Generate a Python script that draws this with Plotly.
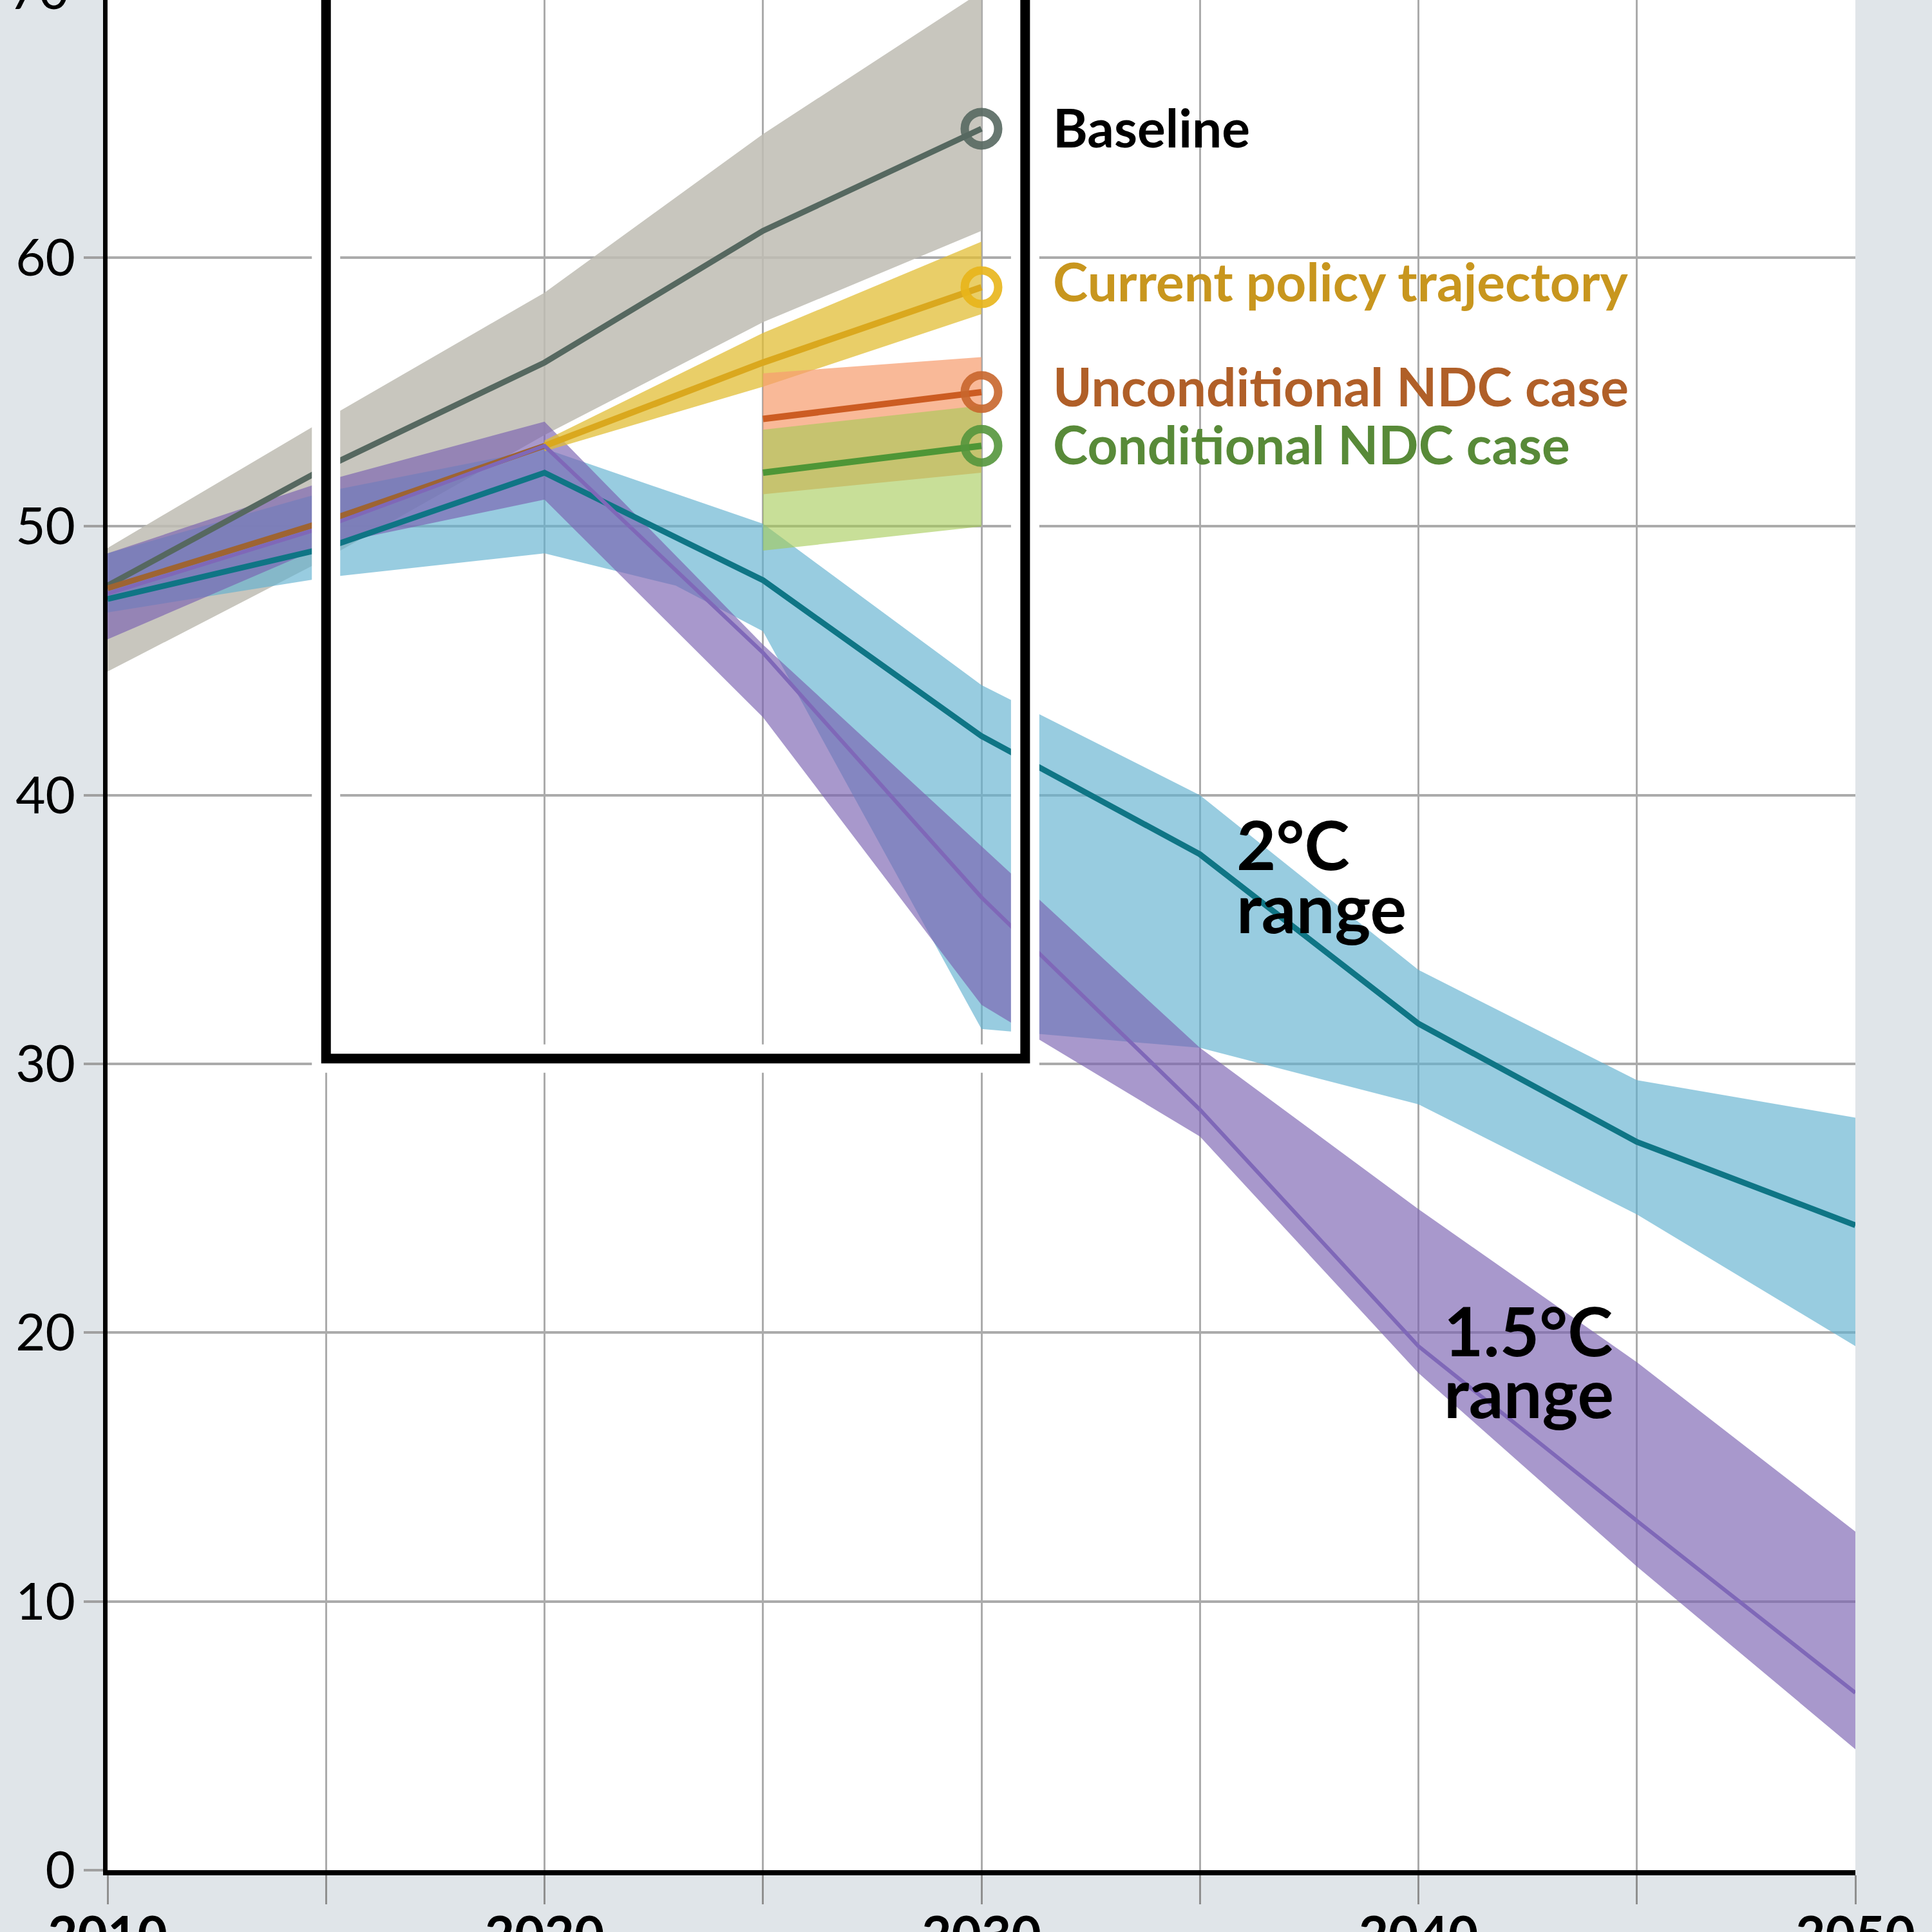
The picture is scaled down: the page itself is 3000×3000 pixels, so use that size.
import plotly.graph_objects as go

# ---------------- data ----------------
years5 = [2010, 2015, 2020, 2025, 2030]
baseline = [47.8, 52.2, 56.1, 61.0, 64.8]
baseline_hi = [49.2, 54.0, 58.7, 64.6, 69.9]
baseline_lo = [44.6, 48.8, 53.4, 57.6, 61.0]

hist_years = [2010, 2015, 2020]
historical = [47.7, 50.2, 53.0]

cp_years = [2020, 2025, 2030]
current_policy = [53.0, 56.1, 58.9]
cp_hi = [53.2, 57.2, 60.6]
cp_lo = [52.8, 55.2, 57.9]

ndc_years = [2025, 2030]
uncond = [54.0, 55.0]
uncond_hi = [55.7, 56.3]
uncond_lo = [51.2, 52.0]
cond = [52.0, 53.0]
cond_hi = [53.6, 54.5]
cond_lo = [49.1, 50.0]

years_long = [2010, 2015, 2020, 2025, 2030, 2035, 2040, 2045, 2050]
two_c = [47.3, 49.2, 52.0, 48.0, 42.2, 37.8, 31.5, 27.1, 24.0]
two_c_hi = [49.0, 51.3, 52.9, 50.1, 44.1, 40.0, 33.5, 29.4, 28.0]
two_c_lo_years = [2010, 2015, 2020, 2023, 2025, 2030, 2035, 2040, 2045, 2050]
two_c_lo = [46.8, 48.1, 49.0, 47.8, 46.1, 31.3, 30.6, 28.5, 24.4, 19.5]

one5_c = [47.5, 50.0, 53.0, 45.3, 36.2, 28.3, 19.5, 13.0, 6.6]
one5_hi = [49.0, 51.7, 53.9, 45.6, 38.1, 30.6, 24.6, 18.9, 12.6]
one5_lo = [45.8, 49.3, 51.0, 42.9, 32.2, 27.3, 18.5, 11.3, 4.5]

x_ticks = [2010, 2015, 2020, 2025, 2030, 2035, 2040, 2045, 2050]
x_ticktext = ["2010", "", "2020", "", "2030", "", "2040", "", "2050"]
y_ticks = [0, 10, 20, 30, 40, 50, 60]
y_top_label = 70

end_labels = ["Baseline", "Current policy trajectory", "Unconditional NDC case", "Conditional NDC case"]
end_values = [baseline[-1], current_policy[-1], uncond[-1], cond[-1]]

box_x = [2015, 2031.0]
box_bottom = 30.2

# ---------------- styling ----------------
W, H = 3000, 3000
ML, MR, MT, MB = 167, 119, 0, 96
Y_MAX = 69.59
FONT = "Lato"
label_anchor_y = [64.88, 59.14, 55.24, 53.08]

fig = go.Figure()


def band(xu, hi, xl, lo, color):
    fig.add_trace(go.Scatter(
        x=list(xu) + list(xl)[::-1], y=list(hi) + list(lo)[::-1],
        fill="toself", fillcolor=color, line=dict(width=0),
        mode="lines", hoverinfo="skip", showlegend=False))


def line(x, y, color, width):
    fig.add_trace(go.Scatter(x=x, y=y, mode="lines",
                             line=dict(color=color, width=width),
                             hoverinfo="skip", showlegend=False))


band(years5, baseline_hi, years5, baseline_lo, "rgba(190,188,179,0.85)")
band(years_long, two_c_hi, two_c_lo_years, two_c_lo, "rgba(97,177,207,0.65)")
band(years_long, one5_hi, years_long, one5_lo, "rgba(121,97,177,0.65)")
band(cp_years, cp_hi, cp_years, cp_lo, "rgba(226,190,54,0.75)")
band(ndc_years, uncond_hi, ndc_years, uncond_lo, "rgba(246,158,112,0.72)")
band(ndc_years, cond_hi, ndc_years, cond_lo, "rgba(163,202,83,0.6)")

line(years5, baseline, "#566860", 9)
line(hist_years, historical, "#9e6432", 9)
line(cp_years, current_policy, "#daa81e", 10)
line(years_long, two_c, "#0f7585", 9)
line(years_long, one5_c, "#7f68b8", 6)
line(ndc_years, uncond, "#cc5c22", 10)
line(ndc_years, cond, "#4e9636", 10)

marker_colors = ["rgba(86,104,96,0.9)", "rgba(232,181,26,0.9)",
                 "rgba(200,102,44,0.9)", "rgba(84,150,60,0.9)"]
for v, c in zip(end_values, marker_colors):
    fig.add_trace(go.Scatter(x=[2030], y=[v], mode="markers",
                             marker=dict(symbol="circle-open", size=52, color=c,
                                         line=dict(width=13, color=c)),
                             hoverinfo="skip", showlegend=False))

label_colors = ["#000000", "#c8961e", "#b05f28", "#588a38"]
annotations = []
for t, v, c in zip(end_labels, label_anchor_y, label_colors):
    annotations.append(dict(x=2031.6, y=v, xref="x", yref="y", text=t, showarrow=False,
                            xanchor="left", yanchor="middle",
                            font=dict(family=FONT, size=82, color=c, weight="bold")))

range_labels = [("2°C", 2035.8, 38.2), ("range", 2035.8, 35.85),
                ("1.5°C", 2040.55, 20.1), ("range", 2040.55, 17.8)]
for t, xx, yy in range_labels:
    annotations.append(dict(x=xx, y=yy, xref="x", yref="y", text=t, showarrow=False,
                            xanchor="left", yanchor="middle",
                            font=dict(family=FONT, size=106, color="black", weight="bold")))

plot_w = W - ML - MR
annotations.append(dict(x=-58 / plot_w, y=y_top_label / Y_MAX, xref="paper", yref="paper",
                        text=str(y_top_label), showarrow=False, xanchor="right", yanchor="middle",
                        font=dict(family=FONT, size=80, color="black")))

shapes = [
    dict(type="rect", xref="x", yref="y", x0=box_x[0], x1=box_x[1], y0=box_bottom, y1=90,
         line=dict(color="white", width=44), fillcolor="rgba(0,0,0,0)", layer="above"),
    dict(type="rect", xref="x", yref="y", x0=box_x[0], x1=box_x[1], y0=box_bottom, y1=90,
         line=dict(color="black", width=15), fillcolor="rgba(0,0,0,0)", layer="above"),
]

fig.update_layout(
    width=W, height=H,
    margin=dict(l=ML, r=MR, t=MT, b=MB, pad=0, autoexpand=False),
    paper_bgcolor="#e0e5e9", plot_bgcolor="white",
    showlegend=False,
    annotations=annotations, shapes=shapes,
    xaxis=dict(range=[2010, 2050], tickvals=x_ticks, ticktext=x_ticktext,
               showgrid=True, gridcolor="#ababab", gridwidth=3,
               ticks="outside", ticklen=45, tickwidth=3, tickcolor="#8f8f8f",
               showline=True, linecolor="black", linewidth=8, zeroline=False,
               automargin=False, ticklabelstandoff=-20,
               tickfont=dict(family=FONT, size=80, color="black", weight="bold")),
    yaxis=dict(range=[0, Y_MAX], tickvals=y_ticks,
               showgrid=True, gridcolor="#ababab", gridwidth=4,
               ticks="outside", ticklen=30, tickwidth=4, tickcolor="#a0a0a0",
               showline=True, linecolor="black", linewidth=7, zeroline=False,
               automargin=False, ticklabelstandoff=-3,
               tickfont=dict(family=FONT, size=80, color="black")),
)

fig.write_html("out.html")
